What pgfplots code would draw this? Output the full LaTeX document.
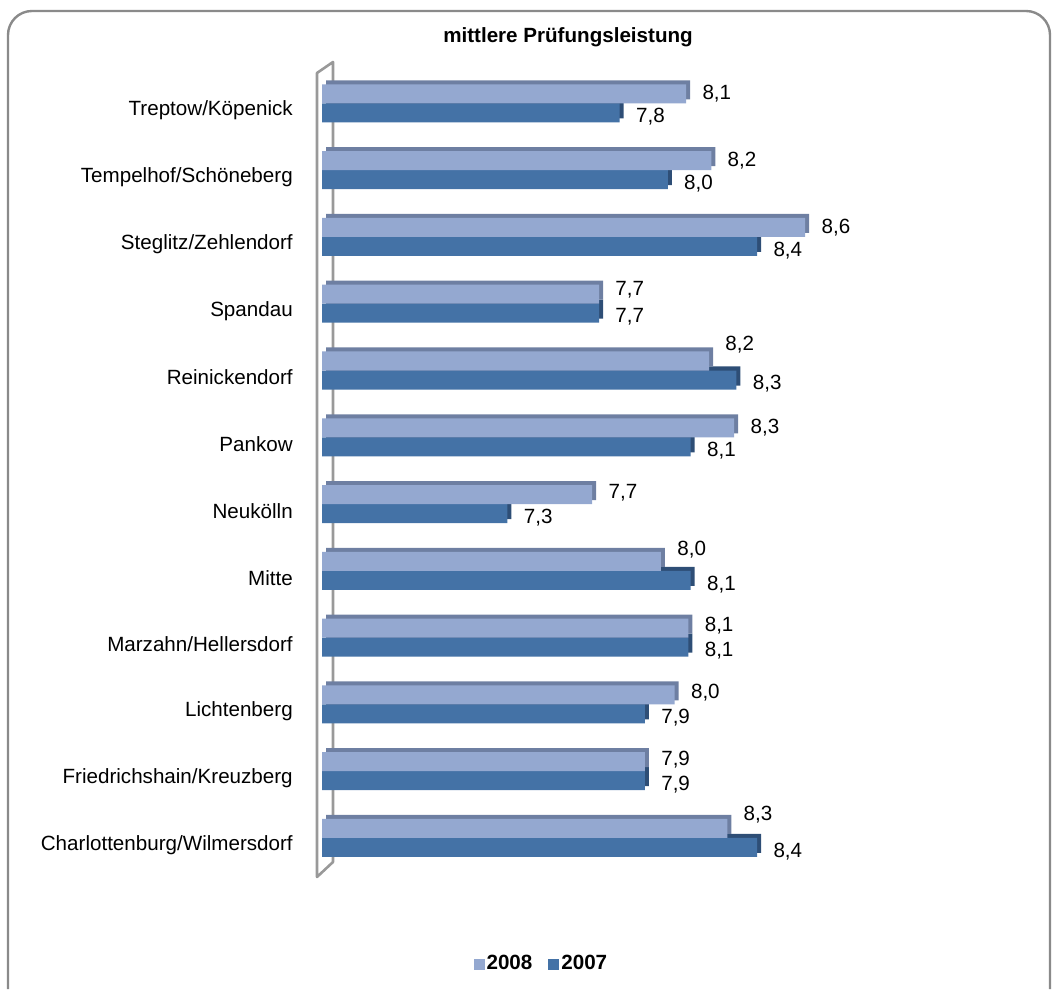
\documentclass[border=0pt]{standalone}
\usepackage{pgfplots}
\usepackage{pgfplotstable}
\usepackage{fontspec}
\setmainfont{Liberation Sans}
\pgfplotsset{compat=1.18}

\definecolor{c08}{HTML}{94A8D0}
\definecolor{c08d}{HTML}{6E7FA2}
\definecolor{c07}{HTML}{4472A6}
\definecolor{c07d}{HTML}{2E4E76}
\definecolor{frame}{HTML}{8A8A8A}
\definecolor{wall}{HTML}{999999}

% idx 0 = bottom (Charlottenburg) ... 11 = top (Treptow)
% s08: vertical shift of the 2008 value label (pt)
\pgfplotstableread{
idx v08  v07  s08
0   8.27 8.40 7
1   7.91 7.91 1
2   8.04 7.91 1
3   8.10 8.10 1
4   7.98 8.11 6
5   7.68 7.31 1
6   8.30 8.11 0
7   8.19 8.31 8
8   7.71 7.71 2
9   8.61 8.40 0
10  8.20 8.01 0
11  8.09 7.80 0
}\data

\begin{document}
\fontsize{10.3pt}{12pt}\selectfont
\begin{tikzpicture}
% pixel coordinates of the 1058x989 reference
\begin{scope}[x=0.5pt,y=-0.5pt,yshift=494.5pt]
  \path (0,0) rectangle (1058,989);
  \draw[frame,line width=1.2pt,rounded corners=12pt] (8,989) -- (8,11) -- (1050,11) -- (1050,989);
  \draw[wall,line width=1.3pt,line join=round] (317,877) -- (317,73) -- (333,62) -- (333,862) -- cycle;
  \node[anchor=west,font=\bfseries] at (436,37) {mittlere Prüfungsleistung};
\end{scope}

\begin{axis}[
  at={(161pt,55.5pt)}, anchor=south west,
  scale only axis,
  width=286.25pt, height=408pt,
  xmin=6.5, xmax=9.0,
  ymin=-0.6, ymax=11.62,
  xbar, bar width=9.5pt,
  axis line style={draw=none},
  xtick=\empty,
  ytick={0,...,11},
  yticklabels={Charlottenburg/Wilmersdorf,Friedrichshain/Kreuzberg,Lichtenberg,Marzahn/Hellersdorf,Mitte,Neukölln,Pankow,Reinickendorf,Spandau,Steglitz/Zehlendorf,Tempelhof/Schöneberg,Treptow/Köpenick},
  major tick length=0pt,
  yticklabel style={xshift=-11pt,yshift=-3.5pt},
  clip=false,
  reverse legend,
  legend style={at={(0.264,-0.1054)}, anchor=west, draw=none, fill=none,
    legend columns=-1, font=\bfseries, inner sep=0pt,
    nodes={inner sep=1pt, anchor=west},
    /tikz/every even column/.append style={column sep=7pt}},
  legend image code/.code={\fill[#1] (0pt,-2.75pt) rectangle (5.5pt,2.75pt);},
  every node near coord/.append style={anchor=west, inner sep=0pt, xshift=8pt},
]
\addplot[xbar, bar shift=-2.75pt, fill=c07d, draw=none, xshift=2pt, forget plot] table[x=v07,y=idx]{\data};
\addplot[xbar, bar shift=-4.75pt, fill=c07, draw=none,
  nodes near coords={\pgfmathprintnumber[use comma,fixed,fixed zerofill,precision=1,assume math mode=true]{\pgfplotspointmeta}},
  every node near coord/.append style={yshift=-2pt}] table[x=v07,y=idx]{\data};
\addplot[xbar, bar shift=6.75pt, fill=c08d, draw=none, xshift=2pt, forget plot] table[x=v08,y=idx]{\data};
\addplot[xbar, bar shift=4.75pt, fill=c08, draw=none,
  visualization depends on={\thisrow{s08} \as \sh},
  nodes near coords={\pgfmathprintnumber[use comma,fixed,fixed zerofill,precision=1,assume math mode=true]{\pgfplotspointmeta}},
  every node near coord/.append style={yshift=\sh}] table[x=v08,y=idx]{\data};
\legend{2007,2008}
\end{axis}
\end{tikzpicture}
\end{document}
